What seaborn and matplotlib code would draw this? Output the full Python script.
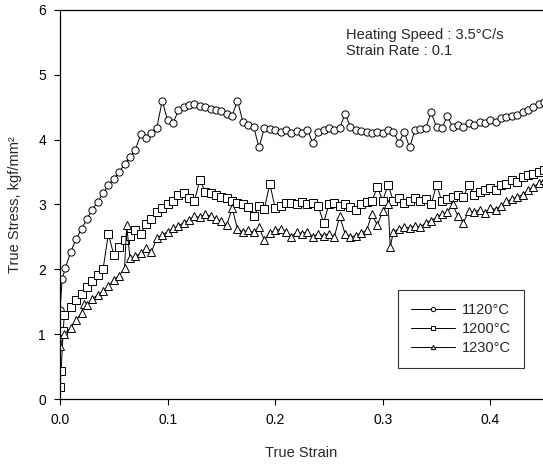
import matplotlib
matplotlib.use("Agg")
import matplotlib.pyplot as plt
import pandas as pd
import seaborn as sns

# 1120 C (circles)
strain_1120 = [0.000, 0.002, 0.005, 0.010, 0.015, 0.020, 0.025, 0.030, 0.035, 0.040,
               0.045, 0.050, 0.055, 0.060, 0.065, 0.070, 0.075, 0.080, 0.085, 0.090,
               0.095, 0.100, 0.105, 0.110, 0.115, 0.120, 0.125, 0.130, 0.135, 0.140,
               0.145, 0.150, 0.155, 0.160, 0.165, 0.170, 0.175, 0.180, 0.185, 0.190,
               0.195, 0.200, 0.205, 0.210, 0.215, 0.220, 0.225, 0.230, 0.235, 0.240,
               0.245, 0.250, 0.255, 0.260, 0.265, 0.270, 0.275, 0.280, 0.285, 0.290,
               0.295, 0.300, 0.305, 0.310, 0.315, 0.320, 0.325, 0.330, 0.335, 0.340,
               0.345, 0.350, 0.355, 0.360, 0.365, 0.370, 0.375, 0.380, 0.385, 0.390,
               0.395, 0.400, 0.405, 0.410, 0.415, 0.420, 0.425, 0.430, 0.435, 0.440,
               0.445, 0.450]
stress_1120 = [1.37, 1.85, 2.02, 2.27, 2.47, 2.62, 2.78, 2.92, 3.04, 3.17,
               3.30, 3.40, 3.50, 3.62, 3.73, 3.84, 4.08, 4.03, 4.10, 4.18,
               4.60, 4.30, 4.25, 4.45, 4.50, 4.53, 4.55, 4.52, 4.50, 4.48,
               4.46, 4.44, 4.40, 4.37, 4.60, 4.28, 4.22, 4.20, 3.88, 4.18,
               4.17, 4.15, 4.12, 4.15, 4.10, 4.13, 4.10, 4.15, 3.95, 4.12,
               4.15, 4.18, 4.15, 4.18, 4.40, 4.20, 4.15, 4.14, 4.12, 4.10,
               4.12, 4.10, 4.15, 4.12, 3.95, 4.12, 3.88, 4.15, 4.17, 4.18,
               4.42, 4.20, 4.18, 4.36, 4.20, 4.22, 4.20, 4.25, 4.22, 4.28,
               4.25, 4.30, 4.28, 4.33, 4.35, 4.37, 4.38, 4.42, 4.45, 4.50,
               4.55, 4.58]

# 1200 C (squares)
strain_1200 = [0.000, 0.001, 0.003, 0.004, 0.010, 0.015, 0.020, 0.025, 0.030, 0.035,
               0.040, 0.045, 0.050, 0.055, 0.060, 0.065, 0.070, 0.075, 0.080, 0.085,
               0.090, 0.095, 0.100, 0.105, 0.110, 0.115, 0.120, 0.125, 0.130, 0.135,
               0.140, 0.145, 0.150, 0.155, 0.160, 0.165, 0.170, 0.175, 0.180, 0.185,
               0.190, 0.195, 0.200, 0.205, 0.210, 0.215, 0.220, 0.225, 0.230, 0.235,
               0.240, 0.245, 0.250, 0.255, 0.260, 0.265, 0.270, 0.275, 0.280, 0.285,
               0.290, 0.295, 0.300, 0.305, 0.310, 0.315, 0.320, 0.325, 0.330, 0.335,
               0.340, 0.345, 0.350, 0.355, 0.360, 0.365, 0.370, 0.375, 0.380, 0.385,
               0.390, 0.395, 0.400, 0.405, 0.410, 0.415, 0.420, 0.425, 0.430, 0.435,
               0.440, 0.445, 0.450]
stress_1200 = [0.18, 0.43, 1.05, 1.30, 1.42, 1.53, 1.62, 1.72, 1.82, 1.92,
               2.00, 2.55, 2.22, 2.35, 2.45, 2.52, 2.60, 2.55, 2.70, 2.78,
               2.88, 2.95, 3.00, 3.05, 3.15, 3.18, 3.10, 3.05, 3.38, 3.20,
               3.18, 3.15, 3.12, 3.10, 3.05, 3.02, 3.00, 2.96, 2.82, 2.97,
               2.93, 3.32, 2.95, 2.97, 3.02, 3.03, 3.00, 3.04, 3.00, 3.02,
               2.98, 2.72, 3.00, 3.02, 2.98, 3.00, 2.96, 2.92, 3.00, 3.04,
               3.05, 3.27, 3.06, 3.30, 3.05, 3.10, 3.02, 3.06, 3.10, 3.05,
               3.08, 3.00, 3.30, 3.05, 3.08, 3.12, 3.15, 3.12, 3.30, 3.15,
               3.20, 3.22, 3.25, 3.22, 3.30, 3.32, 3.38, 3.35, 3.42, 3.45,
               3.47, 3.50, 3.53]

# 1230 C (triangles)
strain_1230 = [0.000, 0.004, 0.010, 0.015, 0.020, 0.022, 0.025, 0.030, 0.035, 0.040,
               0.045, 0.050, 0.055, 0.060, 0.062, 0.065, 0.070, 0.075, 0.080, 0.085,
               0.090, 0.095, 0.100, 0.105, 0.110, 0.115, 0.120, 0.125, 0.130, 0.135,
               0.140, 0.145, 0.150, 0.155, 0.160, 0.165, 0.170, 0.175, 0.180, 0.185,
               0.190, 0.195, 0.200, 0.205, 0.210, 0.215, 0.220, 0.225, 0.230, 0.235,
               0.240, 0.245, 0.250, 0.255, 0.260, 0.265, 0.270, 0.275, 0.280, 0.285,
               0.290, 0.295, 0.300, 0.305, 0.307, 0.310, 0.315, 0.320, 0.325, 0.330,
               0.335, 0.340, 0.345, 0.350, 0.355, 0.360, 0.365, 0.370, 0.375, 0.380,
               0.385, 0.390, 0.395, 0.400, 0.405, 0.410, 0.415, 0.420, 0.425, 0.430,
               0.435, 0.440, 0.445, 0.450]
stress_1230 = [0.82, 1.00, 1.10, 1.22, 1.33, 1.47, 1.45, 1.55, 1.60, 1.66,
               1.74, 1.84, 1.90, 2.02, 2.68, 2.17, 2.20, 2.25, 2.33, 2.27,
               2.48, 2.53, 2.58, 2.63, 2.67, 2.72, 2.76, 2.82, 2.80, 2.85,
               2.82, 2.78, 2.74, 2.68, 2.95, 2.62, 2.58, 2.60, 2.57, 2.65,
               2.45, 2.56, 2.60, 2.62, 2.58, 2.50, 2.58, 2.55, 2.58, 2.50,
               2.55, 2.52, 2.55, 2.50, 2.82, 2.55, 2.50, 2.52, 2.56, 2.60,
               2.85, 2.68, 2.90, 3.00, 2.35, 2.58, 2.62, 2.65, 2.64, 2.67,
               2.65, 2.72, 2.75, 2.80, 2.85, 2.88, 3.00, 2.82, 2.72, 2.90,
               2.88, 2.92, 2.87, 2.95, 2.92, 2.98, 3.05, 3.08, 3.12, 3.15,
               3.22, 3.27, 3.33, 3.38]

labels = ["1120°C", "1200°C", "1230°C"]
markers = ["o", "s", "^"]

sns.set_theme(style="ticks")
plt.rcParams["font.family"] = ["Liberation Sans", "DejaVu Sans"]

fig = plt.figure(figsize=(5.43, 4.67), dpi=100)
ax = fig.add_axes([0.1105, 0.1456, 0.8895, 0.833])

series = [(strain_1120, stress_1120), (strain_1200, stress_1200), (strain_1230, stress_1230)]
for (xs, ys), lab, mk in zip(series, labels, markers):
    df = pd.DataFrame({"strain": xs, "stress": ys})
    sns.lineplot(data=df, x="strain", y="stress", ax=ax, estimator=None, sort=False,
                 color="black", linewidth=0.7, marker=mk, markersize=5.2,
                 markerfacecolor="white", markeredgecolor="black", markeredgewidth=0.7,
                 label=lab)

ax.set_xlim(0, 0.449)
ax.set_ylim(0, 6)
ax.set_xticks([0.0, 0.1, 0.2, 0.3, 0.4])
ax.set_xticklabels(["0.0", "0.1", "0.2", "0.3", "0.4"])
ax.set_yticks([0, 1, 2, 3, 4, 5, 6])
ax.tick_params(direction="out", length=4, width=0.8, labelsize=10, colors="black", pad=6)
for side in ["left", "top", "bottom"]:
    ax.spines[side].set_color("black")
    ax.spines[side].set_linewidth(0.9)
ax.spines["right"].set_visible(False)

ax.set_xlabel("True Strain", fontsize=10.5, labelpad=14)
ax.set_ylabel("True Stress, kgf/mm²", fontsize=10.5, labelpad=12)

ax.text(0.593, 0.953, "Heating Speed : 3.5°C/s\nStrain Rate : 0.1",
        transform=ax.transAxes, fontsize=10.5, va="top", ha="left", linespacing=1.15)

leg = ax.legend(loc="upper left", bbox_to_anchor=(0.684, 0.3), frameon=True, fancybox=False,
                edgecolor="black", fontsize=10.5, handlelength=3.0, markerscale=0.6,
                borderpad=0.9, labelspacing=0.35, handletextpad=0.5)
leg.get_frame().set_linewidth(0.8)

fig.savefig("out.png", dpi=100, facecolor="white")
